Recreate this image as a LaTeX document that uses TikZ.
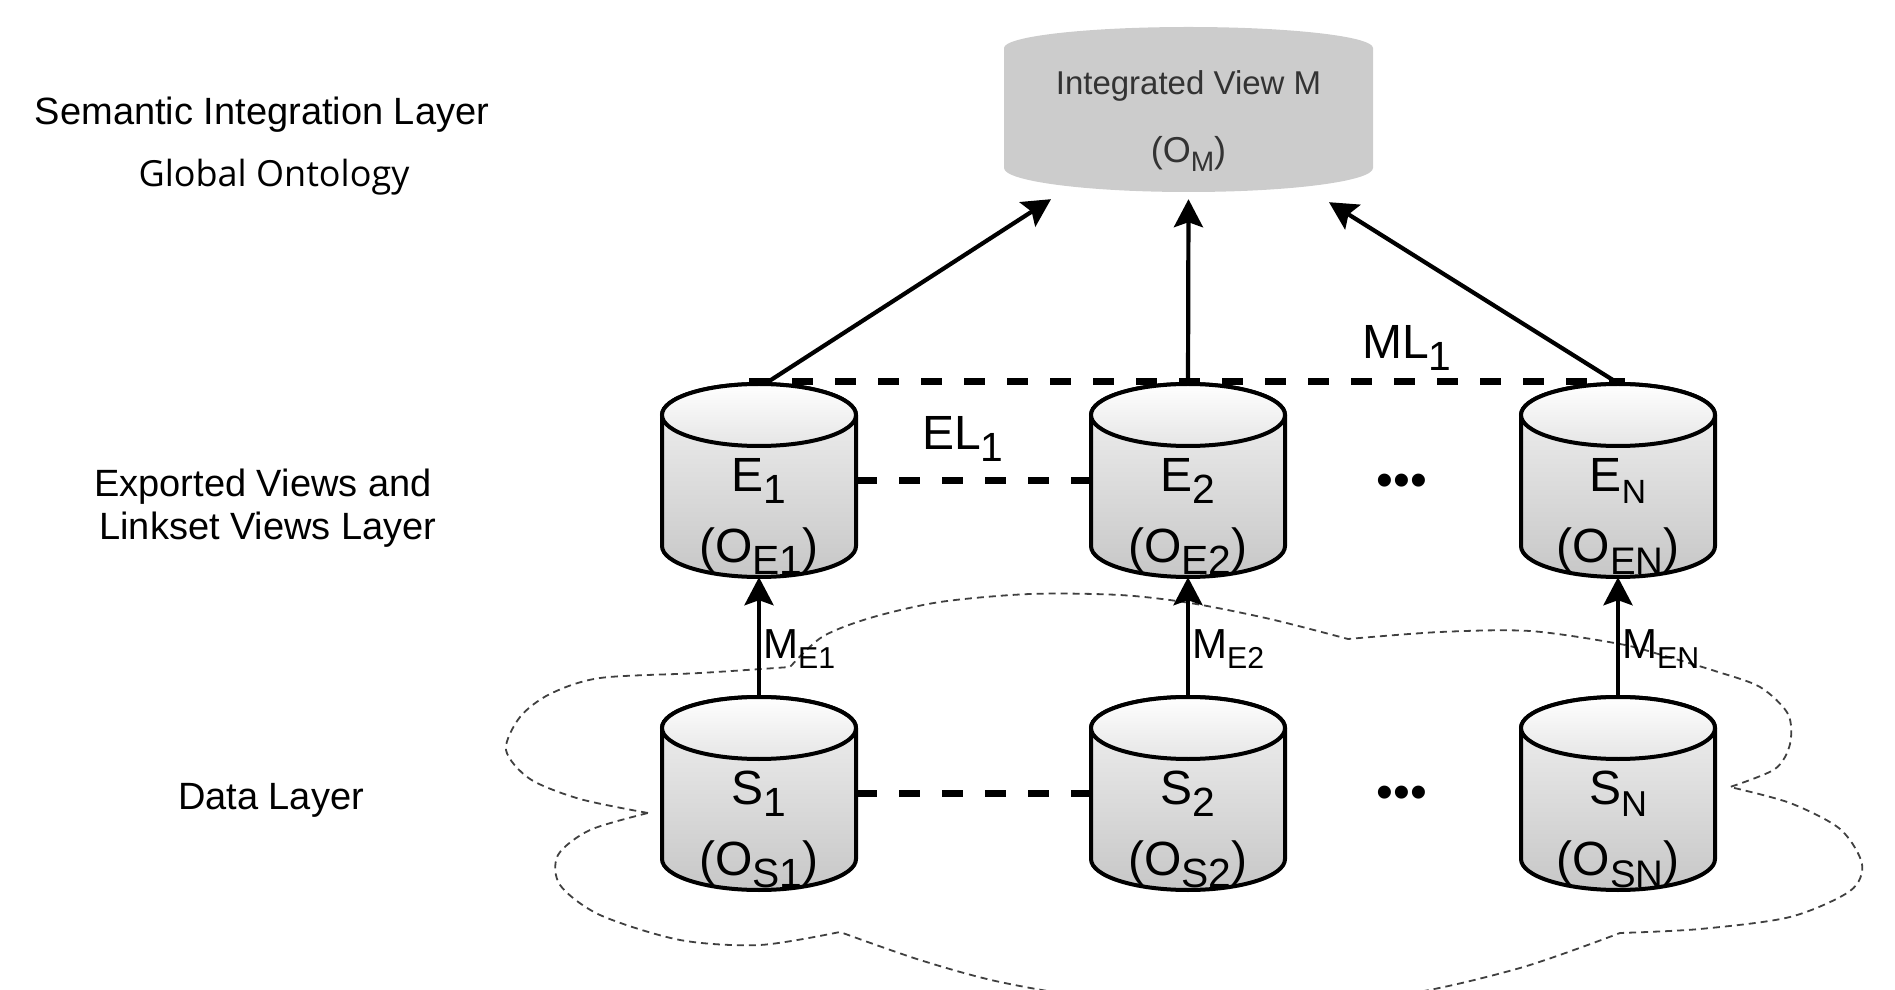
\documentclass[tikz,border=0pt]{standalone}
\usepackage{fontspec}
\setmainfont{Liberation Sans}
\newfontfamily\gofont{Open Sans}
\usetikzlibrary{arrows.meta}
\newcommand\lsub[2][0.85]{\raisebox{-0.25em}{\scalebox{#1}{#2}}}
\newcommand\fsz[1]{\fontsize{#1}{#1}\selectfont}
\tikzset{
  cylbody/.style={top color=black!5, bottom color=black!22, draw=black, line width=4pt},
  cyltop/.style={top color=white, bottom color=black!10, draw=black, line width=4pt},
  cylbox/.style={minimum width=194pt, minimum height=193pt, inner sep=0pt},
  cyltxt/.style={font=\fsz{48}, inner sep=0pt, anchor=base},
  maparrow/.style={line width=4.2pt, -{Stealth[length=28pt, width=29pt, inset=5pt]}},
  linkline/.style={line width=7pt, dash pattern=on 21pt off 22pt},
  cloudline/.style={line width=1.8pt, draw=black!75, dash pattern=on 7pt off 5pt},
  lay/.style={font=\fsz{38}, inner sep=0pt, anchor=base},
  mlbl/.style={font=\fsz{42}, inner sep=0pt, anchor=base west},
  lnklbl/.style={font=\fsz{48}, inner sep=0pt, anchor=base west},
  mtxt/.style={text=black!80, inner sep=0pt, anchor=base},
  dotstxt/.style={font=\fsz{48}, inner sep=0pt}
}
\newcommand\dbcyl[5]{%
  \shade[cylbody] (#2-97,#3+65.5) -- (#2-97,#3-65.5)
    arc[start angle=180,end angle=360,x radius=97pt,y radius=31pt]
    -- (#2+97,#3+65.5)
    arc[start angle=0,end angle=180,x radius=97pt,y radius=31pt] -- cycle;
  \shade[cyltop] (#2,#3+65.5) ellipse[x radius=97pt,y radius=31pt];
  \node[cylbox] (#1) at (#2,#3) {};
  \node[cyltxt] (#1-a) at (#2,#3-11) {#4};
  \node[cyltxt] (#1-b) at (#2,#3-82) {#5};
}
\begin{document}
\begin{tikzpicture}[x=1pt,y=1pt]
\useasboundingbox (0,0) rectangle (1895,989);

% cloud (data layer)
\begin{scope}
\clip (0,0) rectangle (1895,989);
\draw[cloudline]
  plot[smooth] coordinates {(648,176) (580,190) (530,210) (506,239) (520,272) (550,295) (600,311) (700,316) (790,322)}
  -- plot[smooth] coordinates {(790,322) (822,352) (870,371) (940,387) (1030,395) (1120,394) (1190,386) (1270,370) (1348,350)}
  -- plot[smooth] coordinates {(1348,350) (1440,357) (1530,358) (1620,345) (1665,333) (1715,318) (1760,302) (1788,275) (1790,245) (1775,220) (1730,202)}
  -- plot[smooth] coordinates {(1730,202) (1790,186) (1840,160) (1862,125) (1850,98) (1790,72) (1700,60) (1620,56)}
  -- plot[smooth] coordinates {(1620,56) (1520,21) (1400,-6) (1250,-16) (1100,-9) (1000,7) (920,29) (840,57)}
  -- plot[smooth] coordinates {(840,57) (760,44) (680,49) (600,74) (560,104) (558,134) (590,159) (648,176)};
\end{scope}

% integrated view M
\fill[black!20] (1004,941) -- (1004,821)
  arc[start angle=180,end angle=360,x radius=184.5pt,y radius=24pt]
  -- (1373,941)
  arc[start angle=0,end angle=180,x radius=184.5pt,y radius=21pt] -- cycle;
\node[inner sep=0pt, minimum width=369pt, minimum height=165pt] (M) at (1188.5,879.5) {};
\node[mtxt, font=\fsz{33}] (M-a) at (1188.5,894) {Integrated View M};
\node[mtxt, font=\fsz{36}] (M-b) at (1188.5,826) {(O\lsub[0.78]{M})};

% cylinders
\dbcyl{E1}{759}{508.5}{E\lsub{1}}{(O\lsub{E1})}
\dbcyl{E2}{1188}{508.5}{E\lsub{2}}{(O\lsub{E2})}
\dbcyl{EN}{1618}{508.5}{E\lsub[0.7]{N}}{(O\lsub[0.8]{EN})}
\dbcyl{S1}{759}{195.5}{S\lsub{1}}{(O\lsub{S1})}
\dbcyl{S2}{1188}{195.5}{S\lsub{2}}{(O\lsub{S2})}
\dbcyl{SN}{1618}{195.5}{S\lsub[0.75]{N}}{(O\lsub[0.8]{SN})}

% link lines
\draw[linkline] ([xshift=-10pt,yshift=2pt]E1.north) -- ([xshift=7pt,yshift=2pt]EN.north);
\draw[linkline] (E1.east) -- (E2.west);
\draw[linkline] (S1.east) -- (S2.west);

% arrows to M
\draw[maparrow] ([xshift=6pt]E1.north) -- ([xshift=-137.5pt,yshift=-7pt]M.south);
\draw[maparrow] (E2.north) -- ([yshift=-7pt]M.south);
\draw[maparrow] ([xshift=1pt]EN.north) -- ([xshift=140.5pt,yshift=-10pt]M.south);

% mapping arrows
\draw[maparrow] (S1.north) -- (E1.south);
\draw[maparrow] (S2.north) -- (E2.south);
\draw[maparrow] (SN.north) -- (EN.south);

% labels
\node[lnklbl] (EL) at (922,539) {EL\lsub{1}};
\node[lnklbl] (ML) at (1362,630) {ML\lsub{1}};
\node[mlbl] (ME1) at (763,331) {M\lsub[0.72]{E1}};
\node[mlbl] (ME2) at (1192,331) {M\lsub[0.72]{E2}};
\node[mlbl] (MEN) at (1622,331) {M\lsub[0.72]{EN}};
\node[dotstxt] (dotsE) at (1402,504) {\char"2022\char"2022\char"2022};
\node[dotstxt] (dotsS) at (1402,192) {\char"2022\char"2022\char"2022};

% layer names
\node[lay] (L1) at (262,864) {Semantic Integration Layer};
\node[anchor=base, inner sep=0pt, font=\gofont\fsz{36}] (L2) at (274,802) {Global Ontology};
\node[lay] (L3) at (263,492) {Exported Views and};
\node[lay] (L4) at (268,449) {Linkset Views Layer};
\node[lay] (L5) at (271,180) {Data Layer};
\end{tikzpicture}
\end{document}
